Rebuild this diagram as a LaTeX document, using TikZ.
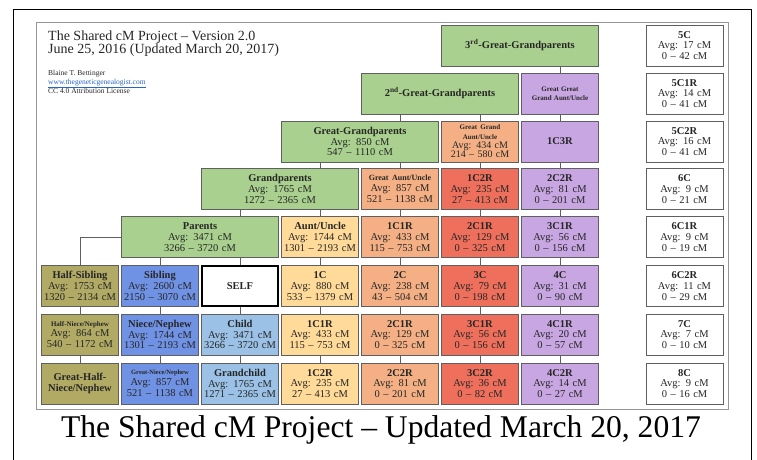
\documentclass[tikz,border=0pt]{standalone}
\usepackage{fontspec}
\setmainfont{Liberation Serif}
\usepackage{tikz}
\usetikzlibrary{positioning}
\definecolor{ancgreen}{RGB}{169,208,142}
\definecolor{halfolive}{RGB}{176,170,100}
\definecolor{sibblue}{RGB}{112,146,228}
\definecolor{kidblue}{RGB}{155,194,230}
\definecolor{auyellow}{RGB}{255,218,152}
\definecolor{cousinorange}{RGB}{244,176,132}
\definecolor{cousinred}{RGB}{238,112,92}
\definecolor{cousinpurple}{RGB}{200,166,226}
\definecolor{boxline}{RGB}{95,95,95}
\definecolor{framegray}{RGB}{150,150,150}
\definecolor{linkblue}{RGB}{40,100,200}
\tikzstyle{rel} = [rectangle, draw=boxline, line width=0.8pt, minimum width=77pt, minimum height=41pt, text width=75pt, align=center, inner sep=0pt, font=\fontsize{10.5}{10.8}\selectfont, text=black!85]
\tikzstyle{span} = [rel, minimum width=157pt, text width=150pt]
\tikzstyle{anc} = [span, fill=ancgreen]
\tikzstyle{half} = [rel, fill=halfolive]
\tikzstyle{sib} = [rel, fill=sibblue]
\tikzstyle{kid} = [rel, fill=kidblue]
\tikzstyle{au} = [rel, fill=auyellow]
\tikzstyle{orng} = [rel, fill=cousinorange]
\tikzstyle{redd} = [rel, fill=cousinred]
\tikzstyle{purp} = [rel, fill=cousinpurple]
\tikzstyle{far} = [rel, fill=white]
\tikzstyle{line} = [draw=boxline, line width=0.8pt]
\newcommand{\cmrel}[3]{\textbf{#1}\\Avg: #2 cM\\#3 cM}
\newcommand{\smallhead}[2]{{\fontsize{#1}{#1}\selectfont\textbf{#2}}}

\begin{document}
\begin{tikzpicture}[x=1pt,y=-1pt]
\useasboundingbox (0,0) rectangle (757,459);
\fill[white] (0,0) rectangle (757,459);
\draw[line width=1pt] (13,470) -- (13,9) -- (751,9) -- (751,470);
\draw[framegray, line width=0.8pt] (36,22) rectangle (728,409);
% heading
\node (head1) [anchor=base west, inner sep=0pt, font=\fontsize{14}{14}\selectfont, text=black!85] at (48,40) {The Shared cM Project -- Version 2.0};
\node (head2) [anchor=base west, inner sep=0pt, font=\fontsize{14}{14}\selectfont, text=black!85] at (48,53) {June 25, 2016 (Updated March 20, 2017)};
\node (author) [anchor=base west, inner sep=0pt, font=\fontsize{7.5}{7.5}\selectfont, text=black!85] at (48,75) {Blaine T. Bettinger};
\node (site) [anchor=base west, inner sep=0pt, font=\fontsize{7.5}{7.5}\selectfont, text=linkblue] at (48,84) {\underline{www.thegeneticgenealogist.com}};
\node (lic) [anchor=base west, inner sep=0pt, font=\fontsize{7.5}{7.5}\selectfont, text=black!85] at (48,93) {CC 4.0 Attribution License};
% ancestors
\node (gp3) [anc] at (520,45.5) {\textbf{3\textsuperscript{rd}-Great-Grandparents}};
\node (gp2) [anc] at (440,93.5) {\textbf{2\textsuperscript{nd}-Great-Grandparents}};
\node (gp1) [anc] at (360,141.5) {\cmrel{Great-Grandparents}{850}{547 -- 1110}};
\node (gp) [anc] at (280,189) {\cmrel{Grandparents}{1765}{1272 -- 2365}};
\node (par) [anc] at (200,237) {\cmrel{Parents}{3471}{3266 -- 3720}};
% aunts, uncles and cousins above
\node (gau3) [purp, font=\fontsize{7}{8.6}\selectfont] at (560,93.5) {\textbf{Great Great\\Grand Aunt/Uncle}};
\node (gau2) [orng, font=\fontsize{10}{9.4}\selectfont] at (480,141.5) {\smallhead{7}{Great Grand\\Aunt/Uncle}\\Avg: 434 cM\\214 -- 580 cM};
\node (c1r3) [purp] at (560,141.5) {\textbf{1C3R}};
\node (gau) [orng] at (400,189) {\smallhead{8}{Great Aunt/Uncle}\\Avg: 857 cM\\521 -- 1138 cM};
\node (c1r2a) [redd] at (480,189) {\cmrel{1C2R}{235}{27 -- 413}};
\node (c2r2a) [purp] at (560,189) {\cmrel{2C2R}{81}{0 -- 201}};
\node (au) [au] at (320,237) {\cmrel{Aunt/Uncle}{1744}{1301 -- 2193}};
\node (c1r1a) [orng] at (400,237) {\cmrel{1C1R}{433}{115 -- 753}};
\node (c2r1a) [redd] at (480,237) {\cmrel{2C1R}{129}{0 -- 325}};
\node (c3r1a) [purp] at (560,237) {\cmrel{3C1R}{56}{0 -- 156}};
% own generation
\node (hsib) [half] at (80,286) {\cmrel{Half-Sibling}{1753}{1320 -- 2134}};
\node (sib) [sib] at (160,286) {\cmrel{Sibling}{2600}{2150 -- 3070}};
\node (self) [far, draw=black, line width=2.2pt, minimum width=75.6pt, minimum height=39.6pt] at (240,286) {\textbf{SELF}};
\node (c1) [au] at (320,286) {\cmrel{1C}{880}{533 -- 1379}};
\node (c2) [orng] at (400,286) {\cmrel{2C}{238}{43 -- 504}};
\node (c3) [redd] at (480,286) {\cmrel{3C}{79}{0 -- 198}};
\node (c4) [purp] at (560,286) {\cmrel{4C}{31}{0 -- 90}};
% descendants
\node (hnn) [half] at (80,334.5) {\smallhead{7}{Half-Niece/Nephew}\\Avg: 864 cM\\540 -- 1172 cM};
\node (nn) [sib] at (160,334.5) {\cmrel{Niece/Nephew}{1744}{1301 -- 2193}};
\node (kid) [kid] at (240,334.5) {\cmrel{Child}{3471}{3266 -- 3720}};
\node (c1r1) [au] at (320,334.5) {\cmrel{1C1R}{433}{115 -- 753}};
\node (c2r1) [orng] at (400,334.5) {\cmrel{2C1R}{129}{0 -- 325}};
\node (c3r1) [redd] at (480,334.5) {\cmrel{3C1R}{56}{0 -- 156}};
\node (c4r1) [purp] at (560,334.5) {\cmrel{4C1R}{20}{0 -- 57}};
\node (ghnn) [half] at (80,383.5) {\textbf{Great-Half-\\Niece/Nephew}};
\node (gnn) [sib] at (160,383.5) {\smallhead{6.5}{Great-Niece/Nephew}\\Avg: 857 cM\\521 -- 1138 cM};
\node (gkid) [kid] at (240,383.5) {\cmrel{Grandchild}{1765}{1271 -- 2365}};
\node (c1r2) [au] at (320,383.5) {\cmrel{1C2R}{235}{27 -- 413}};
\node (c2r2) [orng] at (400,383.5) {\cmrel{2C2R}{81}{0 -- 201}};
\node (c3r2) [redd] at (480,383.5) {\cmrel{3C2R}{36}{0 -- 82}};
\node (c4r2) [purp] at (560,383.5) {\cmrel{4C2R}{14}{0 -- 27}};
% distant cousins
\node (w5c) [far] at (684.5,45.5) {\cmrel{5C}{17}{0 -- 42}};
\node (w5c1r) [far] at (684.5,93.5) {\cmrel{5C1R}{14}{0 -- 41}};
\node (w5c2r) [far] at (684.5,141.5) {\cmrel{5C2R}{16}{0 -- 41}};
\node (w6c) [far] at (684.5,189) {\cmrel{6C}{9}{0 -- 21}};
\node (w6c1r) [far] at (684.5,237) {\cmrel{6C1R}{9}{0 -- 19}};
\node (w6c2r) [far] at (684.5,286) {\cmrel{6C2R}{11}{0 -- 29}};
\node (w7c) [far] at (684.5,334.5) {\cmrel{7C}{7}{0 -- 10}};
\node (w8c) [far] at (684.5,383.5) {\cmrel{8C}{9}{0 -- 16}};
% connectors
\draw[line] (gau3.north) -- (gau3.north |- gp3.south);
\draw[line] ([xshift=40pt]gp1.north) -- ([xshift=40pt]gp1.north |- gp2.south);
\draw[line] (gau2.north) -- (gau2.north |- gp2.south);
\draw[line] (c1r3.north) -- (gau3.south);
\draw[line] ([xshift=40pt]gp.north) -- ([xshift=40pt]gp.north |- gp1.south);
\draw[line] (gau.north) -- (gau.north |- gp1.south);
\draw[line] (c1r2a.north) -- (gau2.south);
\draw[line] (c2r2a.north) -- (c1r3.south);
\draw[line] ([xshift=40pt]par.north) -- ([xshift=40pt]par.north |- gp.south);
\draw[line] (au.north) -- (au.north |- gp.south);
\draw[line] (c1r1a.north) -- (gau.south);
\draw[line] (c2r1a.north) -- (c1r2a.south);
\draw[line] (c3r1a.north) -- (c2r2a.south);
\draw[line] (par.west) -| (hsib.north);
\draw[line] (sib.north) -- (sib.north |- par.south);
\draw[line] (self.north) -- (self.north |- par.south);
\draw[line] (c1.north) -- (au.south);
\draw[line] (c2.north) -- (c1r1a.south);
\draw[line] (c3.north) -- (c2r1a.south);
\draw[line] (c4.north) -- (c3r1a.south);
\draw[line] (hsib.south) -- (hnn.north);
\draw[line] (sib.south) -- (nn.north);
\draw[line] (self.south) -- (kid.north);
\draw[line] (c1.south) -- (c1r1.north);
\draw[line] (c2.south) -- (c2r1.north);
\draw[line] (c3.south) -- (c3r1.north);
\draw[line] (c4.south) -- (c4r1.north);
\draw[line] (hnn.south) -- (ghnn.north);
\draw[line] (nn.south) -- (gnn.north);
\draw[line] (kid.south) -- (gkid.north);
\draw[line] (c1r1.south) -- (c1r2.north);
\draw[line] (c2r1.south) -- (c2r2.north);
\draw[line] (c3r1.south) -- (c3r2.north);
\draw[line] (c4r1.south) -- (c4r2.north);
% caption
\node (caption) [anchor=base, inner sep=0pt, font=\fontsize{31.6}{31.6}\selectfont] at (381,437) {The Shared cM Project -- Updated March 20, 2017};
\end{tikzpicture}
\end{document}
